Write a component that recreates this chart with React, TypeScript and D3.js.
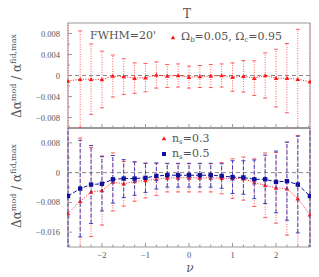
import React from 'react';
import * as d3 from 'd3';

// nu grid (edge points sit on the frame)
const nu = [-2.78, -2.5, -2.25, -2, -1.75, -1.5, -1.25, -1, -0.75, -0.5, -0.25, 0, 0.25, 0.5, 0.75, 1, 1.25, 1.5, 1.75, 2, 2.25, 2.5, 2.78];

// top panel: Omega_b=0.05, Omega_c=0.95
const topVal = [-0.00105, -0.0007, -0.0007, -0.00076, -0.0001, -0.0002, -0.0005, -0.0004, 0.0001, -0.0001, 0, -0.0003, -0.0002, -0.0001, 0, -0.0003, -0.00015, -0.0005, 0, -0.0005, -0.0005, -0.0007, -0.0012];
const topErr = [0.03, 0.0092, 0.0067, 0.0054, 0.004, 0.0034, 0.0029, 0.0027, 0.0025, 0.0022, 0.0022, 0.0021, 0.0021, 0.0022, 0.0022, 0.0027, 0.003, 0.0033, 0.0043, 0.0055, 0.0066, 0.0095, 0.03];

// bottom panel: n_s = 0.3 (red) and n_s = 0.5 (blue)
const ns03Val = [-0.011, -0.0077, -0.0052, -0.0048, -0.0025, -0.003, -0.0024, -0.0021, -0.0018, -0.0014, -0.0014, -0.0014, -0.0014, -0.0014, -0.0015, -0.0016, -0.0016, -0.0027, -0.0034, -0.0041, -0.0043, -0.007, -0.0113];
const ns03Err = [0.04, 0.017, 0.012, 0.0093, 0.0078, 0.006, 0.0053, 0.0047, 0.0043, 0.0038, 0.0038, 0.0038, 0.0038, 0.0038, 0.0042, 0.0053, 0.0058, 0.0064, 0.0087, 0.0095, 0.0125, 0.017, 0.04];
const ns05Val = [-0.0063, -0.0043, -0.0032, -0.003, -0.0018, -0.0016, -0.0016, -0.0014, -0.0009, -0.0007, -0.0007, -0.0007, -0.0007, -0.0007, -0.0009, -0.0012, -0.0013, -0.0018, -0.0018, -0.0025, -0.0023, -0.0032, -0.0063];
const ns05Err = [0.04, 0.013, 0.0105, 0.0073, 0.0064, 0.0051, 0.0045, 0.0039, 0.0035, 0.0032, 0.0032, 0.0032, 0.0032, 0.0032, 0.0033, 0.0044, 0.0045, 0.0052, 0.0065, 0.0083, 0.0105, 0.013, 0.04];

const topTicks = [0.008, 0.004, 0, -0.004, -0.008];
const botTicks = [0.008, 0, -0.008, -0.016];
const xTicks = [-2, -1, 0, 1, 2];

const RED = '#ff1a1a';
const RED_ERR = '#ff5a5a';
const BLUE = '#10109a';
const BLUE_ERR = '#4040b8';
const FRAME = '#999';
const TXT = '#555';
const FONT = 'Liberation Serif, serif';
const FONT2 = 'DejaVu Serif, serif';

const L = 68, R = 310, T1 = 23, B1 = 128, B2 = 247;

const x = d3.scaleLinear().domain([-2.78, 2.78]).range([L, R]);
const yTop = d3.scaleLinear().domain([-0.01, 0.01]).range([B1, T1]);
const yBot = d3.scaleLinear().domain([-0.02, 0.012]).range([B2, B1]);

const fmt = (v: number) => (v === 0 ? '0' : (v < 0 ? '\u2212' : '') + Math.abs(v).toFixed(3));

function Series({ vals, errs, y, color, errColor, dash, marker }: any) {
  const line = d3.line<number>().x((_, i) => x(nu[i])).y(d => y(d));
  return (
    <g>
      {vals.map((v: number, i: number) => {
        const xp = x(nu[i]);
        const y0 = y(v - errs[i]);
        const y1 = y(v + errs[i]);
        return (
          <g key={i} stroke={errColor} strokeWidth={1} fill="none">
            <line x1={xp} x2={xp} y1={y0} y2={y1} strokeDasharray={dash} />
            <line x1={xp - 2} x2={xp + 2} y1={y0} y2={y0} />
            <line x1={xp - 2} x2={xp + 2} y1={y1} y2={y1} />
          </g>
        );
      })}
      <path d={line(vals) || ''} fill="none" stroke={color} strokeWidth={1} strokeDasharray={dash} />
      {vals.map((v: number, i: number) => {
        const xp = x(nu[i]);
        const yp = y(v);
        return marker === 'tri' ? (
          <path key={'m' + i} d={`M${xp},${yp - 2.3}L${xp + 2.3},${yp + 1.8}L${xp - 2.3},${yp + 1.8}Z`} fill={color} />
        ) : (
          <rect key={'m' + i} x={xp - 2.2} y={yp - 2.2} width={4.4} height={4.4} fill={color} />
        );
      })}
    </g>
  );
}

function Frame({ y, ticks, minor, top, bottom }: any) {
  const xMinor = d3.range(-2.75, 2.76, 0.25);
  return (
    <g>
      {minor.map((t: number, i: number) => (
        <line key={'ym' + i} x1={L} x2={L + 2} y1={y(t)} y2={y(t)} stroke={FRAME} />
      ))}
      {ticks.map((t: number, i: number) => (
        <g key={'yt' + i}>
          <line x1={L} x2={L + 4} y1={y(t)} y2={y(t)} stroke={FRAME} />
          <text x={L - 8} y={y(t) + 3} textAnchor="end" fontSize={8.5} fill={TXT} fontFamily={FONT}>{fmt(t)}</text>
        </g>
      ))}
      {xMinor.map((t: number, i: number) => {
        const major = Math.abs(t - Math.round(t)) < 1e-6;
        return <line key={'xm' + i} x1={x(t)} x2={x(t)} y1={bottom} y2={bottom - (major ? 4 : 2.5)} stroke={FRAME} />;
      })}
      <rect x={L} y={top} width={R - L} height={bottom - top} fill="none" stroke={FRAME} strokeWidth={1} />
      <line x1={L} x2={R} y1={y(0)} y2={y(0)} stroke="#888" strokeDasharray="4,3" />
    </g>
  );
}

function YLabel({ cy }: { cy: number }) {
  return (
    <text transform={`translate(21,${cy}) rotate(-90)`} textAnchor="middle" fontFamily={FONT2} fill={TXT} fontSize={12}>
      Δα<tspan fontSize={8} dy={-5}>mod</tspan><tspan dy={5}> / α</tspan><tspan fontSize={8} dy={-5}>fid,max</tspan>
    </text>
  );
}

export default function App() {
  return (
    <svg width={319} height={277} style={{ position: 'absolute', left: 0, top: 0 }}>
      <defs>
        <clipPath id="cTop"><rect x={L - 1} y={T1} width={R - L + 2} height={B1 - T1} /></clipPath>
        <clipPath id="cBot"><rect x={L - 1} y={B1} width={R - L + 2} height={B2 - B1} /></clipPath>
      </defs>
      <rect width={319} height={277} fill="#fff" />
      <text x={187} y={18} textAnchor="middle" fontFamily={FONT2} fontSize={12} fill={TXT}>T</text>

      <Frame y={yTop} ticks={topTicks} minor={[0.006, 0.002, -0.002, -0.006]} top={T1} bottom={B1} />
      <Frame y={yBot} ticks={botTicks} minor={[0.004, -0.004, -0.012]} top={B1} bottom={B2} />
      <line x1={L} x2={R} y1={B1} y2={B1} stroke={FRAME} strokeWidth={2} />

      <g clipPath="url(#cTop)">
        <Series vals={topVal} errs={topErr} y={yTop} color={RED} errColor={RED_ERR} dash="1,1.5" marker="tri" />
      </g>
      <g clipPath="url(#cBot)">
        <Series vals={ns03Val} errs={ns03Err} y={yBot} color={RED} errColor={RED_ERR} dash="1,1.5" marker="tri" />
        <Series vals={ns05Val} errs={ns05Err} y={yBot} color={BLUE} errColor={BLUE_ERR} dash="4,2" marker="sq" />
      </g>

      <text x={90} y={39} fontFamily={FONT2} fontSize={11} fill={TXT}>FWHM=20'</text>
      <path d="M173,35.2L175.3,39.3L170.7,39.3Z" fill={RED} />
      <text x={181} y={40} fontFamily={FONT2} fontSize={11} fill={TXT}>
        Ω<tspan fontSize={7} dy={2}>b</tspan><tspan dy={-2}>=0.05,  Ω</tspan><tspan fontSize={7} dy={2}>c</tspan><tspan dy={-2}>=0.95</tspan>
      </text>

      <path d="M164,136.2L166.3,140.3L161.7,140.3Z" fill={RED} />
      <text x={172} y={142} fontFamily={FONT2} fontSize={11} fill={TXT}>
        n<tspan fontSize={7} dy={2}>s</tspan><tspan dy={-2}>=0.3</tspan>
      </text>
      <rect x={162} y={152} width={4} height={4} fill={BLUE} />
      <text x={172} y={157} fontFamily={FONT2} fontSize={11} fill={TXT}>
        n<tspan fontSize={7} dy={2}>s</tspan><tspan dy={-2}>=0.5</tspan>
      </text>

      {xTicks.map(t => (
        <text key={t} x={x(t)} y={258} textAnchor="middle" fontFamily={FONT} fontSize={8.5} fill={TXT}>{fmt(t).replace('.000', '')}</text>
      ))}
      <text x={190} y={272} textAnchor="middle" fontFamily={FONT2} fontSize={12} fontStyle="italic" fill={TXT}>ν</text>

      <YLabel cy={76} />
      <YLabel cy={186} />
    </svg>
  );
}
